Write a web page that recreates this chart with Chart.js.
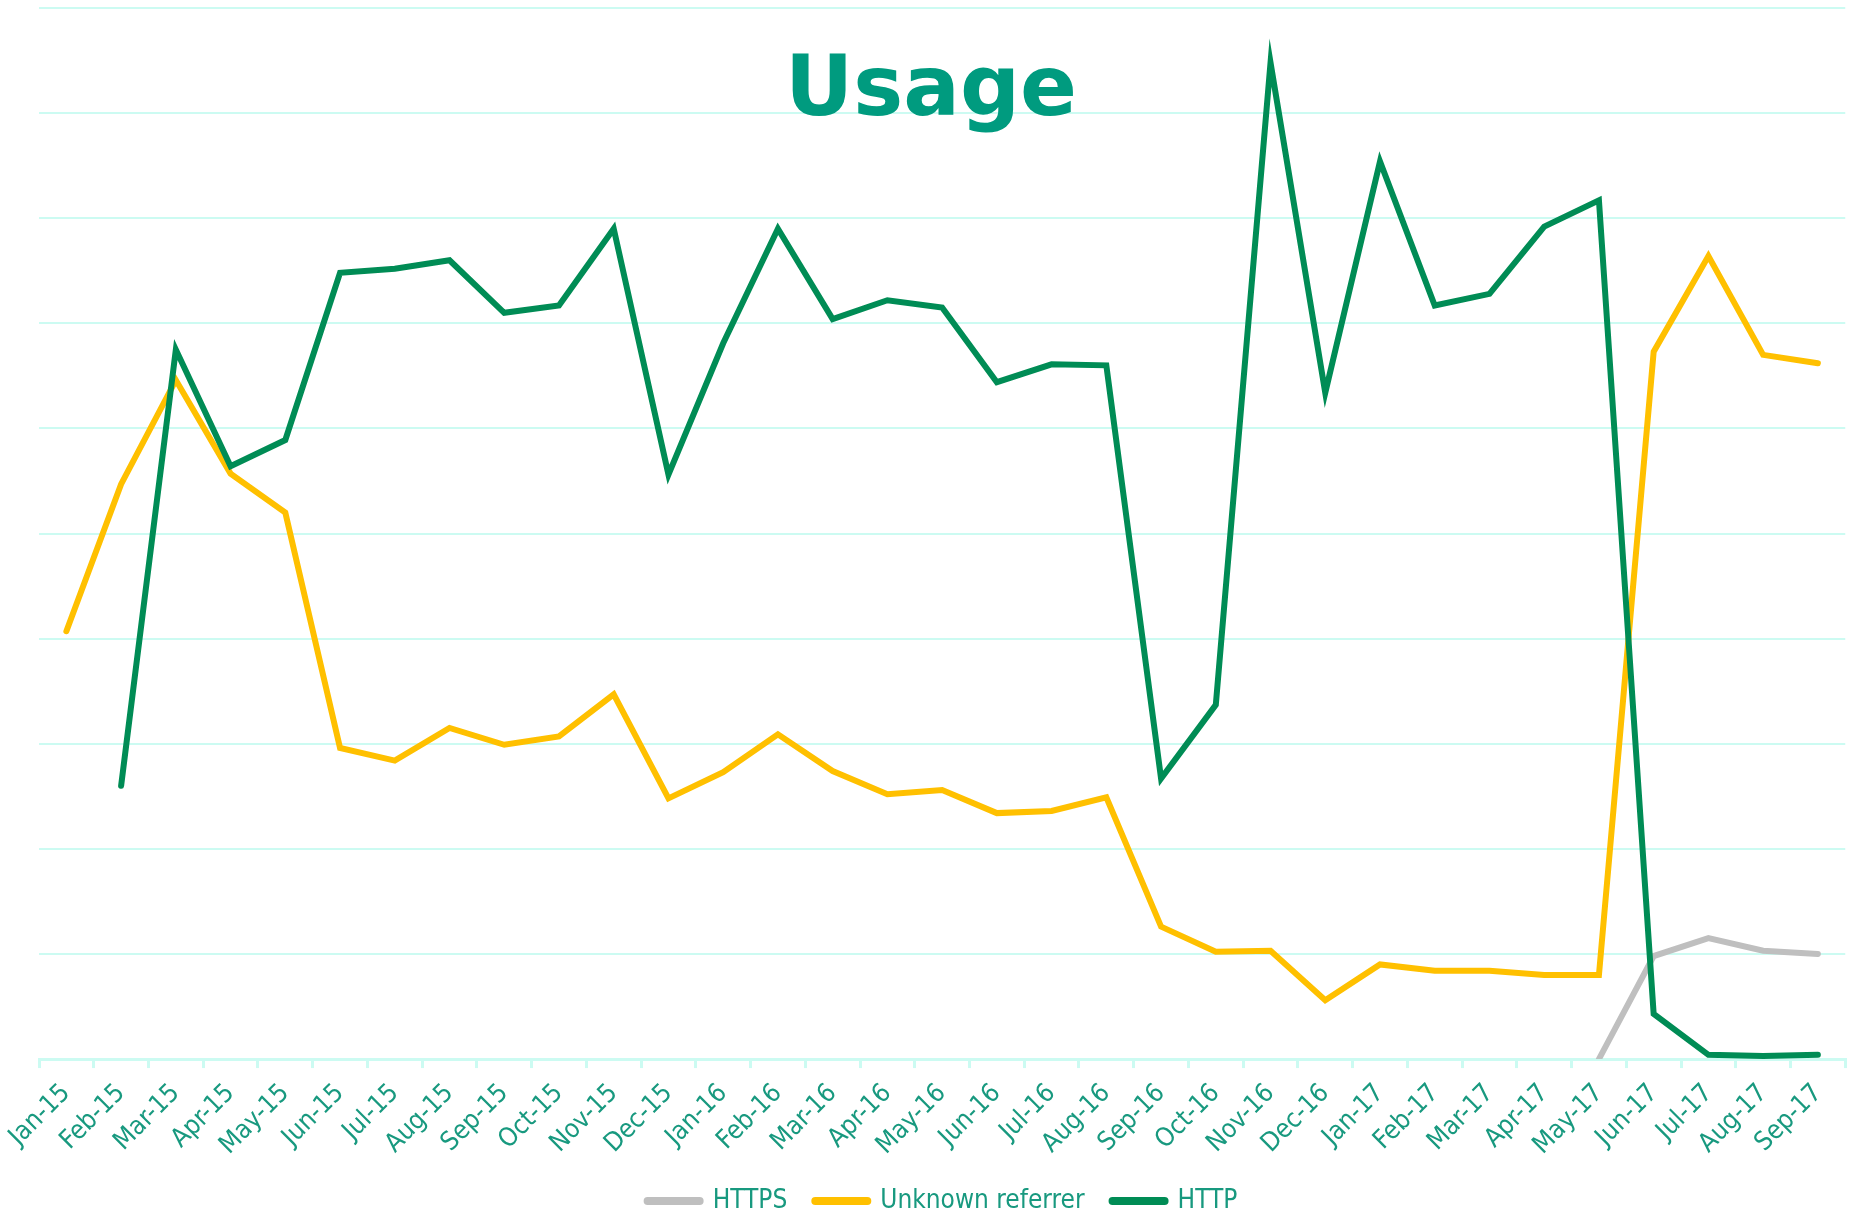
<!DOCTYPE html>
<html>
<head>
<meta charset="utf-8">
<title>Usage</title>
<script src="https://cdn.jsdelivr.net/npm/chart.js@4.4.0/dist/chart.umd.min.js"></script>
<style>
  html, body { margin: 0; padding: 0; background: #ffffff; }
  #wrap { width: 1850px; height: 1210px; position: relative; }
</style>
</head>
<body>
<div id="wrap"><canvas id="usageChart"></canvas></div>
<script>
// months on the x axis
const months = [
    'Jan-15', 'Feb-15', 'Mar-15', 'Apr-15', 'May-15', 'Jun-15', 'Jul-15', 'Aug-15', 'Sep-15', 'Oct-15', 'Nov-15', 'Dec-15',
    'Jan-16', 'Feb-16', 'Mar-16', 'Apr-16', 'May-16', 'Jun-16', 'Jul-16', 'Aug-16', 'Sep-16', 'Oct-16', 'Nov-16', 'Dec-16',
    'Jan-17', 'Feb-17', 'Mar-17', 'Apr-17', 'May-17', 'Jun-17', 'Jul-17', 'Aug-17', 'Sep-17'
];

// values (no axis labels shown, grid 0..10)
const httpsValues = [
    null, null, null, null, null, null, null, null, null, null, null, null,
    null, null, null, null, null, null, null, null, null, null, null, null,
    null, null, null, null, 0, 0.98, 1.15, 1.03, 1.00
];
const unknownValues = [
    4.07, 5.47, 6.46, 5.57, 5.20, 2.96, 2.84, 3.15, 2.99, 3.07, 3.47, 2.48,
    2.73, 3.09, 2.74, 2.52, 2.56, 2.34, 2.36, 2.49, 1.26, 1.02, 1.03, 0.56,
    0.90, 0.84, 0.84, 0.80, 0.80, 6.73, 7.64, 6.70, 6.62
];
const httpValues = [
    null, 2.60, 6.75, 5.64, 5.89, 7.48, 7.52, 7.60, 7.10, 7.17, 7.90, 5.56,
    6.81, 7.90, 7.04, 7.22, 7.15, 6.44, 6.61, 6.60, 2.67, 3.37, 9.48, 6.34,
    8.54, 7.17, 7.28, 7.92, 8.17, 0.43, 0.04, 0.03, 0.04
];

const gridColor = '#CCFBF2';
const textColor = '#18997F';

// big title sits inside the plot area, so draw it by hand
const overlayTitle = {
    id: 'overlayTitle',
    afterDraw(chart) {
        const ctx = chart.ctx;
        ctx.save();
        ctx.font = 'bold 84px "DejaVu Sans"';
        ctx.fillStyle = '#009B7F';
        ctx.textAlign = 'center';
        ctx.textBaseline = 'alphabetic';
        ctx.fillText('Usage', 931, 115);
        ctx.restore();
    }
};

document.addEventListener('DOMContentLoaded', function () {
    var ctx = document.getElementById('usageChart').getContext('2d');
    new Chart(ctx, {
        type: 'line',
        data: {
            labels: months,
            datasets: [
                {
                    label: 'HTTPS',
                    data: httpsValues,
                    borderColor: '#BFBFBF',
                    backgroundColor: '#BFBFBF',
                    order: 2
                },
                {
                    label: 'Unknown referrer',
                    data: unknownValues,
                    borderColor: '#FFC000',
                    backgroundColor: '#FFC000',
                    order: 1
                },
                {
                    label: 'HTTP',
                    data: httpValues,
                    borderColor: '#008C55',
                    backgroundColor: '#008C55',
                    order: 0
                }
            ]
        },
        options: {
            responsive: true,
            maintainAspectRatio: false,
            animation: false,
            elements: {
                line: { borderWidth: 6, tension: 0, borderCapStyle: 'round', borderJoinStyle: 'miter' },
                point: { radius: 0, hoverRadius: 0 }
            },
            layout: {
                // legend sits low, right on the bottom edge
                padding: { left: 39, right: 4, top: 8, bottom: -14 }
            },
            scales: {
                x: {
                    offset: true,
                    // trim the empty space under the rotated labels
                    afterFit: function (scale) { scale.height -= 11; },
                    grid: {
                        offset: true,
                        drawOnChartArea: false,
                        drawTicks: true,
                        tickLength: 9,
                        color: gridColor,
                        lineWidth: 3
                    },
                    border: { color: gridColor, width: 3 },
                    ticks: {
                        color: textColor,
                        minRotation: 45,
                        maxRotation: 45,
                        autoSkip: false,
                        padding: 10,
                        font: { family: '"DejaVu Sans Condensed"', size: 26 }
                    }
                },
                y: {
                    min: 0,
                    max: 10,
                    ticks: { display: false, stepSize: 1 },
                    grid: { color: gridColor, lineWidth: 2, drawTicks: false },
                    border: { display: false }
                }
            },
            plugins: {
                title: { display: false },
                tooltip: { enabled: false },
                legend: {
                    position: 'bottom',
                    labels: {
                        color: textColor,
                        usePointStyle: true,
                        pointStyle: 'line',
                        pointStyleWidth: 52,
                        boxHeight: 26,
                        padding: 28,
                        font: { family: '"DejaVu Sans Condensed"', size: 26 },
                        sort: function (a, b) { return a.datasetIndex - b.datasetIndex; },
                        generateLabels: function (chart) {
                            var items = Chart.defaults.plugins.legend.labels.generateLabels(chart);
                            items.forEach(function (it) {
                                it.lineWidth = 8;
                                it.lineCap = 'round';
                            });
                            return items;
                        }
                    }
                }
            }
        },
        plugins: [overlayTitle]
    });
});
</script>
</body>
</html>
